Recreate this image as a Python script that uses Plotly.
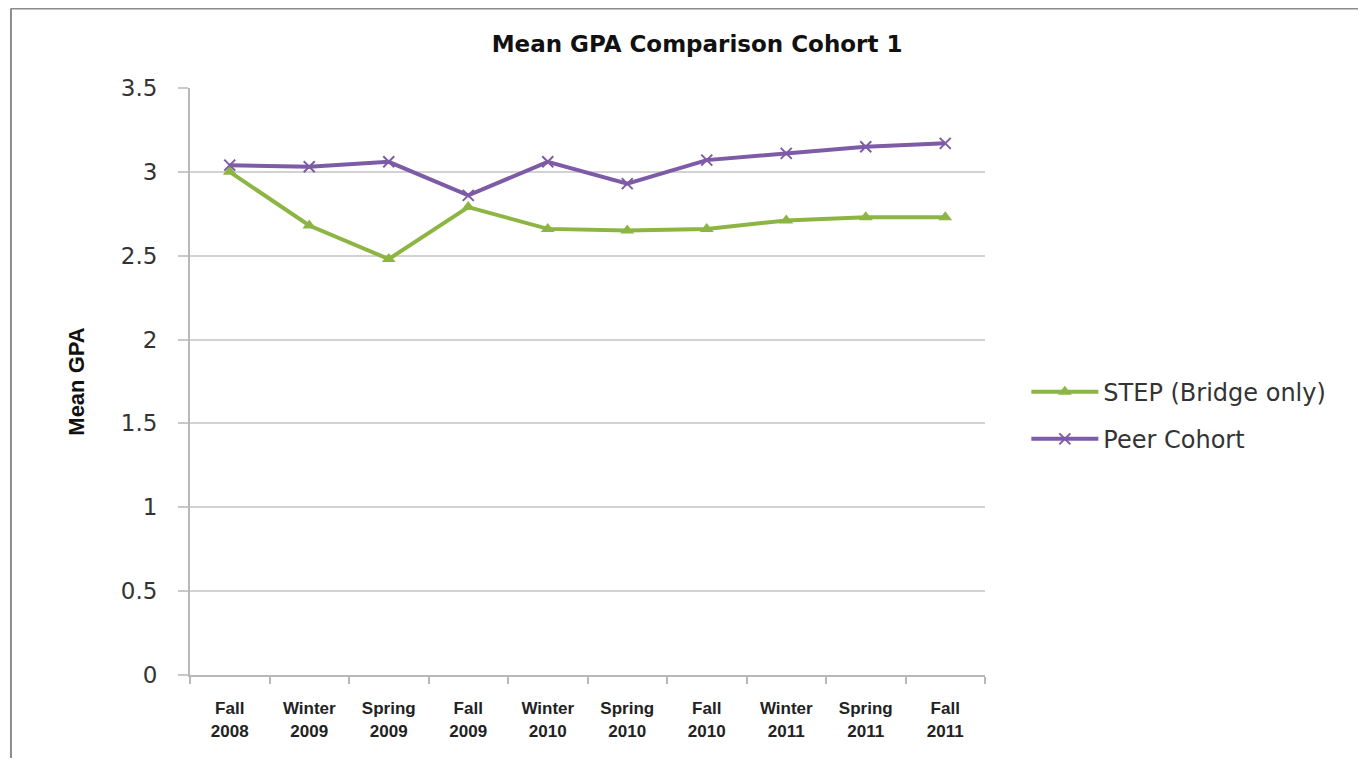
import plotly.graph_objects as go

terms = ["Fall<br>2008", "Winter<br>2009", "Spring<br>2009", "Fall<br>2009", "Winter<br>2010",
         "Spring<br>2010", "Fall<br>2010", "Winter<br>2011", "Spring<br>2011", "Fall<br>2011"]
step_gpa = [3.00, 2.68, 2.48, 2.79, 2.66, 2.65, 2.66, 2.71, 2.73, 2.73]
peer_gpa = [3.04, 3.03, 3.06, 2.86, 3.06, 2.93, 3.07, 3.11, 3.15, 3.17]

fig = go.Figure()

fig.add_trace(go.Scatter(
    x=terms, y=step_gpa, name="STEP (Bridge only)", mode="lines+markers", legendgroup="a",
    line=dict(color="#8db543", width=4),
    marker=dict(symbol="triangle-up", size=12, color="#8db543"),
))
fig.add_trace(go.Scatter(
    x=terms, y=peer_gpa, name="Peer Cohort", mode="lines+markers", legendgroup="b",
    line=dict(color="#7d5ba6", width=4),
    marker=dict(symbol="x-thin", size=11, line=dict(color="#7d5ba6", width=2)),
))

# outer chart border (only top and left edges are visible)
fig.add_shape(type="line", xref="paper", yref="paper", x0=-0.2252, x1=1.5, y0=1.1354, y1=1.1354,
              line=dict(color="#8c8c8c", width=2))
fig.add_shape(type="line", xref="paper", yref="paper", x0=-0.2252, x1=-0.2252, y0=1.1354, y1=-0.2,
              line=dict(color="#8c8c8c", width=2))

fig.update_layout(
    width=1350, height=750,
    margin=dict(l=182, r=373, t=80, b=83),
    paper_bgcolor="white", plot_bgcolor="white",
    font=dict(family="DejaVu Sans, sans-serif", color="#222222"),
    title=dict(text="<b>Mean GPA Comparison Cohort 1</b>", x=0.5104, xanchor="center",
               y=0.952, yanchor="middle", font=dict(size=23, color="#111111")),
    showlegend=True,
    legend=dict(x=1.052, y=0.442, xanchor="left", yanchor="middle",
                font=dict(size=24, color="#333333"), tracegroupgap=13,
                itemwidth=67),
    xaxis=dict(
        type="category", showgrid=False, showline=True, linecolor="#b8b8b8", linewidth=2,
        ticks="outside", tickson="boundaries", ticklen=7, tickcolor="#b8b8b8", tickwidth=2,
        tickfont=dict(size=17, color="#222222", family="Liberation Sans, sans-serif"),
        tickangle=0, range=[-0.5, 9.5], ticklabelstandoff=17,
        tickprefix="<b>", ticksuffix="</b>",
    ),
    yaxis=dict(
        range=[0, 3.5], dtick=0.5, showgrid=True, gridcolor="#d2d2d2", gridwidth=2,
        showline=True, linecolor="#b8b8b8", linewidth=2,
        ticks="outside", ticklen=10, tickcolor="#c8c8c8", tickwidth=2,
        tickfont=dict(size=23, color="#333333"), ticklabelstandoff=16,
        zeroline=False,
        title=dict(text="<b>Mean GPA</b>", standoff=30,
                   font=dict(size=22, color="#111111", family="Liberation Sans, sans-serif")),
    ),
)

fig.write_html("out.html")
